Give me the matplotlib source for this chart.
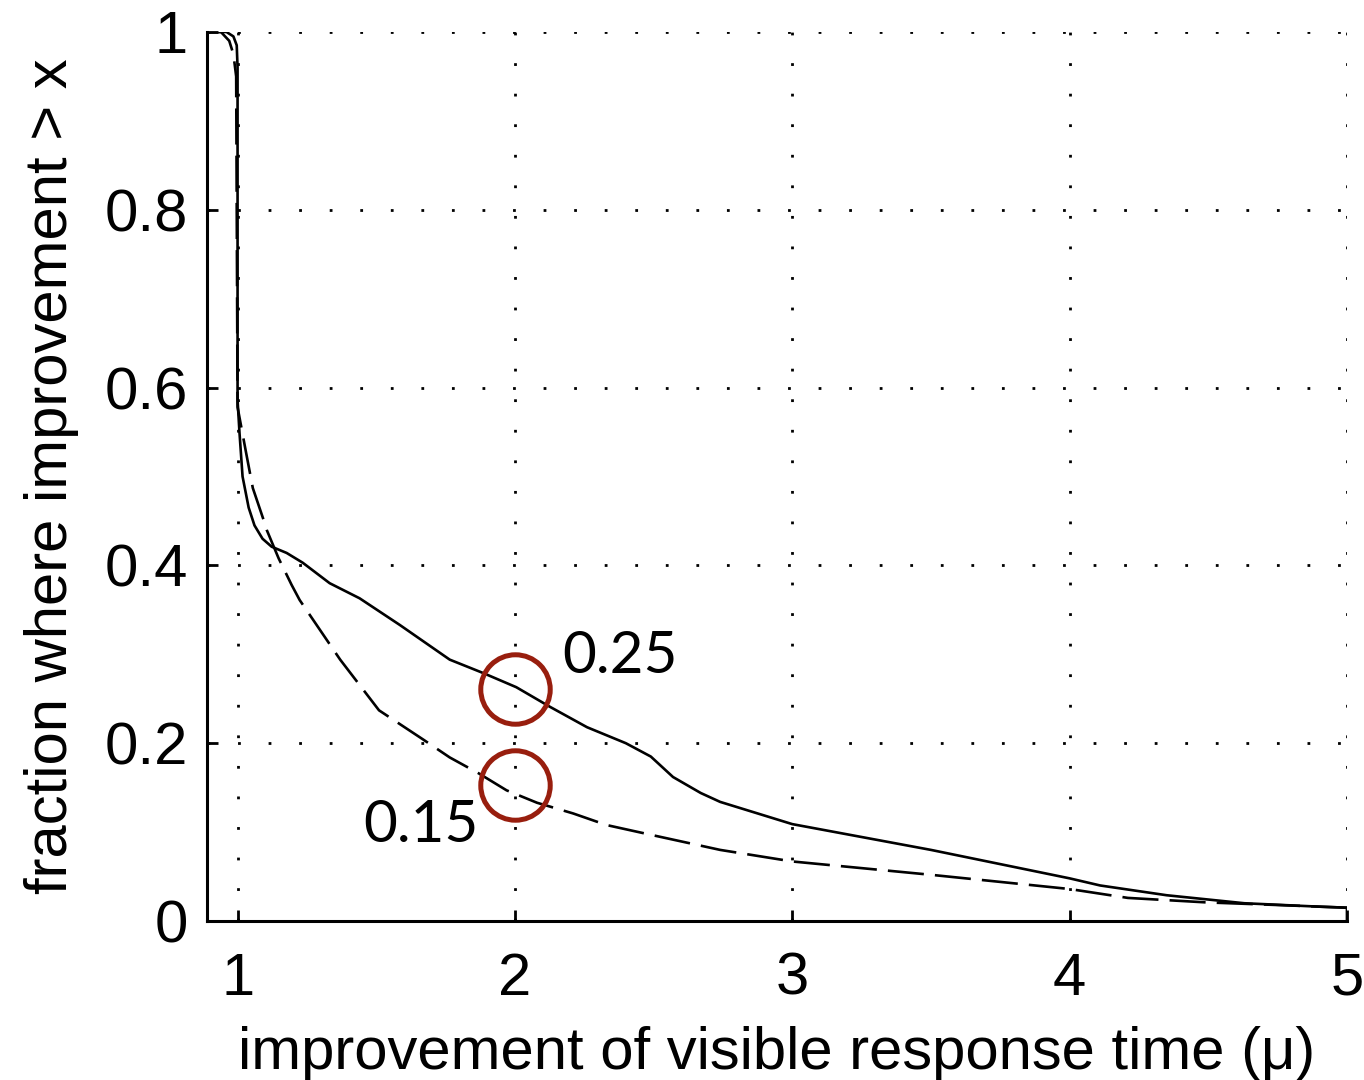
import matplotlib
matplotlib.use("Agg")
import matplotlib.pyplot as plt

plt.rcParams['font.family'] = ['Liberation Sans', 'DejaVu Sans']
plt.rcParams['lines.scale_dashes'] = False

# Solid curve
solid_x = [0.89, 0.96, 0.985, 0.997, 1.0, 1.0, 1.007, 1.018, 1.04, 1.061, 1.09, 1.123, 1.177,
           1.235, 1.332, 1.44, 1.585, 1.765, 1.885, 2.005, 2.126, 2.26, 2.40, 2.49,
           2.57, 2.67, 2.74, 3.0, 3.5, 4.0, 4.11, 4.35, 4.63, 4.91, 5.0, 5.0]
solid_y = [1.0, 1.0, 0.995, 0.985, 0.96, 0.586, 0.549, 0.500, 0.465, 0.445, 0.43, 0.421, 0.414,
           0.403, 0.380, 0.363, 0.333, 0.294, 0.279, 0.263, 0.241, 0.218, 0.200, 0.185,
           0.162, 0.144, 0.134, 0.109, 0.080, 0.048, 0.040, 0.029, 0.020, 0.016, 0.015, 0.0]

# Dashed curve
dash_x = [0.89, 0.94, 0.97, 0.985, 0.995, 1.0, 1.03, 1.055, 1.094, 1.105, 1.148, 1.195, 1.224,
          1.37, 1.51, 1.67, 1.765, 1.87, 1.97, 2.08, 2.21, 2.33, 2.49, 2.74, 3.0,
          3.5, 4.0, 4.21, 4.49, 4.75, 5.0]
dash_y = [1.0, 1.0, 0.99, 0.975, 0.95, 0.578, 0.528, 0.487, 0.451, 0.44, 0.408, 0.378, 0.361,
          0.294, 0.237, 0.204, 0.184, 0.166, 0.147, 0.133, 0.121, 0.108, 0.097, 0.080, 0.067,
          0.052, 0.036, 0.026, 0.021, 0.018, 0.015]

mark_x = [2.0, 2.0]
mark_y = [0.261, 0.153]
ann_text = ["0.25", "0.15"]
ann_x = [2.38, 1.66]
ann_y = [0.297, 0.107]

xticks = [1, 2, 3, 4, 5]
yticks = [0, 0.2, 0.4, 0.6, 0.8, 1]
ytick_labels = ["0", "0.2", "0.4", "0.6", "0.8", "1"]

fig = plt.figure(figsize=(13.64, 10.8), dpi=100)
ax = fig.add_axes([0.1518, 0.1472, 0.8357, 0.8232])

ax.plot(solid_x, solid_y, color='black', lw=1.9, solid_joinstyle='round')
ax.plot(dash_x, dash_y, color='black', lw=1.9, dashes=(26, 8))

ax.plot(mark_x, mark_y, linestyle='none', marker='o', markersize=50,
        markerfacecolor='none', markeredgecolor='#981e0e', markeredgewidth=3.6)

for t, xx, yy in zip(ann_text, ann_x, ann_y):
    ax.text(xx, yy, t, fontsize=42, family=['Lato', 'DejaVu Sans'], ha='center', va='center')

ax.set_xlim(0.89, 5.0)
ax.set_ylim(0, 1)
ax.set_xticks(xticks)
ax.set_xticklabels([str(v) for v in xticks])
ax.set_yticks(yticks)
ax.set_yticklabels(ytick_labels)

ax.grid(True, color='black', linestyle=(0, (2, 20)), lw=2.0)
ax.spines['top'].set_visible(False)
ax.spines['right'].set_visible(False)
ax.spines['left'].set_linewidth(2.2)
ax.spines['bottom'].set_linewidth(2.2)
ax.tick_params(direction='in', length=8, width=2, labelsize=43)
ax.tick_params(axis='y', pad=14)
ax.tick_params(axis='x', pad=22)

ax.set_xlabel("improvement of visible response time (\u03bc)", fontsize=43, labelpad=14)
ax.set_ylabel("fraction where improvement > x", fontsize=43, labelpad=18)

fig.savefig("out.png", dpi=100)
